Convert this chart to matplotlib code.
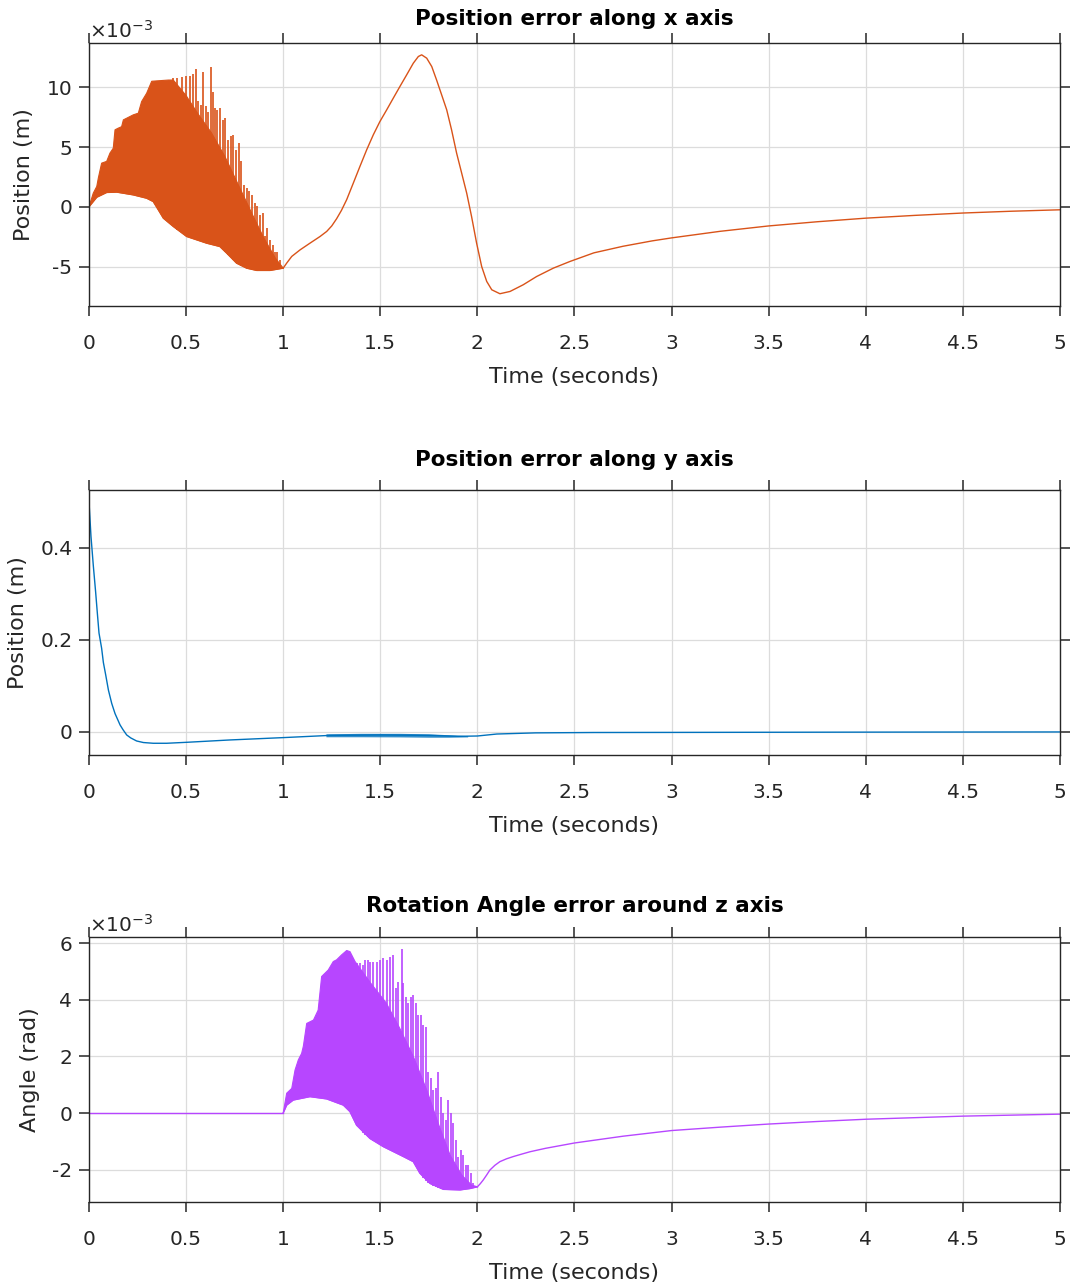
import numpy as np
import matplotlib
matplotlib.use('Agg')
from matplotlib import pyplot as plt

plt.rcParams['font.family'] = ['DejaVu Sans']
plt.rcParams['mathtext.fontset'] = 'dejavusans'
plt.rcParams['axes.unicode_minus'] = False

# ---------------- x error (units of 1e-3 m) ----------------
x_lo_t = [0.0, 0.04, 0.091, 0.143, 0.228, 0.297, 0.331, 0.357, 0.383, 0.434, 0.503,
          0.606, 0.674, 0.709, 0.76, 0.812, 0.864, 0.932, 1.0]
x_lo_v = [0.0, 0.8, 1.2, 1.23, 1.0, 0.72, 0.44, -0.25, -0.95, -1.64, -2.48,
          -3.04, -3.32, -3.87, -4.71, -5.13, -5.32, -5.32, -5.13]
# dense chatter body top
x_body_t = [0.0, 0.022, 0.04, 0.048, 0.065, 0.091, 0.108, 0.125, 0.134, 0.151, 0.168,
            0.177, 0.228, 0.254, 0.271, 0.297, 0.323, 0.409, 0.434, 0.5, 0.56, 0.63,
            0.7, 0.77, 0.84, 0.9, 0.96, 1.0]
x_body_v = [0.0, 1.14, 1.7, 2.4, 3.65, 3.8, 4.49, 4.9, 6.44, 6.58, 6.7,
            7.27, 7.69, 7.83, 8.8, 9.5, 10.5, 10.6, 10.6, 9.3, 7.8, 6.2,
            4.2, 1.8, -0.6, -2.6, -4.3, -5.13]
# individual chatter spikes
x_spk_t = [0.434, 0.455, 0.477, 0.4995, 0.52, 0.537, 0.551, 0.563, 0.575, 0.589,
           0.602, 0.614, 0.626, 0.637, 0.649, 0.661, 0.674, 0.688, 0.702, 0.716,
           0.729, 0.743, 0.757, 0.771, 0.784, 0.798, 0.812, 0.826, 0.839, 0.853,
           0.867, 0.88, 0.894, 0.908, 0.918, 0.932, 0.946, 0.958, 0.97, 0.983]
x_spk_hi = [10.76, 10.76, 10.84, 10.9, 10.9, 11.12, 11.51, 8.81, 8.53, 11.31,
            8.39, 7.97, 11.68, 9.64, 8.25, 8.11, 8.25, 7.27, 7.41, 5.6,
            5.88, 6.02, 4.77, 5.32, 3.79, 1.84, 1.56, 1.28, 1.0, 0.31,
            0.03, -0.67, -0.53, -2.48, -1.78, -2.76, -3.18, -3.74, -3.74, -4.43]
x_spk_lo = [-1.64, -1.9, -2.15, -2.45, -2.55, -2.65, -2.75, -2.8, -2.9, -2.98,
            -3.03, -3.07, -3.12, -3.17, -3.22, -3.27, -3.32, -3.5, -3.75, -4.0,
            -4.2, -4.45, -4.65, -4.8, -4.95, -5.05, -5.13, -5.2, -5.25, -5.3,
            -5.32, -5.32, -5.32, -5.32, -5.32, -5.32, -5.3, -5.25, -5.2, -5.15]
x_t = [1.0, 1.018, 1.044, 1.087, 1.138, 1.19, 1.224, 1.25, 1.275, 1.3, 1.327,
       1.361, 1.395, 1.43, 1.464, 1.498, 1.533, 1.567, 1.601, 1.636, 1.67, 1.696,
       1.713, 1.739, 1.765, 1.79, 1.816, 1.842, 1.867, 1.893, 1.919, 1.945, 1.97,
       1.996, 2.022, 2.048, 2.074, 2.116, 2.168, 2.236, 2.305, 2.391, 2.477, 2.6,
       2.75, 2.9, 3.0, 3.25, 3.5, 3.75, 4.0, 4.25, 4.5, 4.75, 5.0]
x_v = [-5.13, -4.71, -4.15, -3.6, -3.04, -2.48, -2.06, -1.6, -1.0, -0.3, 0.6,
       1.98, 3.37, 4.77, 6.02, 7.13, 8.11, 9.09, 10.06, 11.04, 12.01, 12.57,
       12.71, 12.43, 11.73, 10.6, 9.36, 8.11, 6.44, 4.49, 2.82, 1.14, -0.81,
       -3.04, -4.99, -6.24, -6.94, -7.27, -7.08, -6.52, -5.83, -5.13, -4.57, -3.85,
       -3.3, -2.85, -2.6, -2.05, -1.6, -1.25, -0.95, -0.72, -0.52, -0.37, -0.25]

# ---------------- y error (m) ----------------
y_t = [0.0, 0.0103, 0.0223, 0.034, 0.043, 0.0515, 0.065, 0.074, 0.086, 0.1,
       0.117, 0.134, 0.16, 0.175, 0.194, 0.215, 0.245, 0.28, 0.331, 0.4, 0.503,
       0.726, 1.0, 1.24, 1.5, 1.75, 1.9, 2.0, 2.1, 2.3, 2.6, 3.0, 4.0, 5.0]
y_v = [0.5, 0.4246, 0.361, 0.305, 0.258, 0.215, 0.182, 0.151, 0.124, 0.091,
       0.062, 0.04, 0.0152, 0.005, -0.0065, -0.013, -0.0196, -0.023, -0.0246,
       -0.0246, -0.0225, -0.0174, -0.0123, -0.0075, -0.0065, -0.0075, -0.0095,
       -0.0088, -0.0045, -0.002, -0.0012, -0.001, -0.0004, 0.0]
y_chat_t = [1.22, 1.4, 1.6, 1.75, 1.85, 1.95]
y_chat_lo = [-0.0105, -0.0105, -0.0108, -0.0115, -0.0115, -0.0108]
y_chat_hi = [-0.004, -0.003, -0.003, -0.004, -0.006, -0.008]

# ---------------- z rotation error (units of 1e-3 rad) ----------------
z_lo_t = [1.0, 1.018, 1.052, 1.138, 1.224, 1.31, 1.344, 1.378, 1.447, 1.516, 1.619,
          1.67, 1.704, 1.756, 1.825, 1.911, 1.963, 2.0]
z_lo_v = [0.0, 0.28, 0.46, 0.58, 0.5, 0.28, 0.05, -0.43, -0.9, -1.19, -1.54,
          -1.72, -2.13, -2.49, -2.7, -2.72, -2.67, -2.61]
z_body_t = [1.0, 1.018, 1.044, 1.061, 1.078, 1.095, 1.104, 1.121, 1.156, 1.18, 1.198,
            1.232, 1.258, 1.275, 1.3, 1.327, 1.344, 1.37, 1.45, 1.53, 1.6, 1.67,
            1.74, 1.8, 1.86, 1.92, 1.97, 2.0]
z_body_v = [0.0, 0.7, 0.87, 1.52, 1.88, 2.11, 2.37, 3.17, 3.29, 3.64, 4.83,
            5.06, 5.36, 5.42, 5.59, 5.75, 5.71, 5.36, 4.6, 3.9, 3.0, 2.0,
            0.8, -0.4, -1.5, -2.2, -2.55, -2.61]
z_spk_t = [1.3817, 1.3957, 1.41, 1.422, 1.436, 1.448, 1.464, 1.481, 1.498, 1.516,
           1.533, 1.55, 1.567, 1.581, 1.593, 1.61, 1.619, 1.631, 1.645, 1.656,
           1.67, 1.682, 1.696, 1.708, 1.722, 1.734, 1.747, 1.759, 1.773, 1.785,
           1.799, 1.811, 1.825, 1.837, 1.85, 1.862, 1.876, 1.888, 1.902, 1.914,
           1.928, 1.94, 1.953, 1.965, 1.979]
z_spk_hi = [5.3, 5.3, 5.24, 5.42, 5.42, 5.36, 5.36, 5.36, 5.42, 5.48,
            5.42, 5.53, 5.59, 4.41, 4.65, 5.79, 4.59, 4.12, 3.88, 4.12,
            4.18, 3.88, 3.47, 3.47, 3.12, 3.06, 1.46, 1.23, 0.81, 0.87,
            1.46, 0.58, -0.01, -0.25, 0.46, -0.01, -0.37, -0.96, -1.55, -1.31,
            -1.49, -1.84, -1.84, -2.13, -2.49]
z_spk_lo = [-0.45, -0.58, -0.7, -0.78, -0.85, -0.9, -0.98, -1.05, -1.12, -1.19,
            -1.25, -1.31, -1.37, -1.41, -1.45, -1.51, -1.54, -1.58, -1.63, -1.67,
            -1.72, -1.85, -2.03, -2.17, -2.3, -2.4, -2.47, -2.51, -2.57, -2.62,
            -2.66, -2.68, -2.7, -2.71, -2.72, -2.72, -2.72, -2.72, -2.72, -2.72,
            -2.71, -2.7, -2.68, -2.66, -2.64]
z_t = [0.0, 1.0]
z_v = [0.0, 0.0]
z_t2 = [2.0, 2.015, 2.03, 2.047, 2.064, 2.09, 2.116, 2.15, 2.185, 2.23, 2.271, 2.35,
        2.5, 2.75, 3.0, 3.25, 3.5, 3.75, 4.0, 4.5, 5.0]
z_v2 = [-2.61, -2.5, -2.37, -2.2, -2.02, -1.85, -1.72, -1.62, -1.54, -1.45, -1.37,
        -1.25, -1.06, -0.82, -0.62, -0.5, -0.39, -0.3, -0.22, -0.11, -0.04]

time_ticks = [0, 0.5, 1, 1.5, 2, 2.5, 3, 3.5, 4, 4.5, 5]
time_labels = ['0', '0.5', '1', '1.5', '2', '2.5', '3', '3.5', '4', '4.5', '5']

c_x = '#D95319'
c_y = '#0072BD'
c_z = '#B746FF'
ink = '#262626'

fig = plt.figure(figsize=(10.71, 12.87), dpi=100)


def style(ax, ylim, yticks, ylabels, title, ylabel, tpad):
    ax.set_xlim(0, 5)
    ax.set_ylim(*ylim)
    ax.set_xticks(time_ticks)
    ax.set_xticklabels(time_labels)
    ax.set_yticks(yticks)
    ax.set_yticklabels(ylabels)
    ax.grid(True, color='#dcdcdc', linewidth=0.9)
    ax.set_axisbelow(True)
    ax.tick_params(direction='out', length=7, width=1.1, colors=ink, labelsize=14.5,
                   top=True, right=True)
    ax.tick_params(axis='x', pad=13)
    ax.tick_params(axis='y', pad=5)
    for s in ax.spines.values():
        s.set_color(ink)
        s.set_linewidth(1.0)
    ax.set_title(title, fontsize=15.5, fontweight='bold', color='black', pad=tpad)
    ax.set_xlabel('Time (seconds)', fontsize=16, color=ink, labelpad=10)
    ax.set_ylabel(ylabel, fontsize=16, color=ink, labelpad=9)


def chatter(ax, lo_t, lo_v, body_t, body_v, spk_t, spk_lo, spk_hi, col):
    ax.fill(list(body_t) + list(lo_t[::-1]), list(body_v) + list(lo_v[::-1]),
            color=col, linewidth=0.8)
    ax.vlines(spk_t, spk_lo, spk_hi, color=col, linewidth=1.2)
    ax.plot(lo_t, lo_v, color=col, linewidth=1.0)


# ---- plot 1 ----
ax1 = fig.add_axes([0.0831, 0.7622, 0.9066, 0.2044])
chatter(ax1, x_lo_t, x_lo_v, x_body_t, x_body_v, x_spk_t, x_spk_lo, x_spk_hi, c_x)
ax1.plot(x_t, x_v, color=c_x, linewidth=1.0)
style(ax1, (-8.3, 13.7), [-5, 0, 5, 10], ['-5', '0', '5', '10'],
      'Position error along x axis', 'Position (m)', 13)
ax1.text(0.0, 1.003, r'$\times10^{-3}$', transform=ax1.transAxes, fontsize=14.5,
         color=ink, ha='left', va='bottom')

# ---- plot 2 ----
ax2 = fig.add_axes([0.0831, 0.4134, 0.9066, 0.2059])
ax2.plot(y_t, y_v, color=c_y, linewidth=1.0)
ax2.fill_between(y_chat_t, y_chat_lo, y_chat_hi, color=c_y, alpha=0.8, linewidth=0)
style(ax2, (-0.05, 0.526), [0, 0.2, 0.4], ['0', '0.2', '0.4'],
      'Position error along y axis', 'Position (m)', 17)

# ---- plot 3 ----
ax3 = fig.add_axes([0.0831, 0.0660, 0.9066, 0.2060])
ax3.plot(z_t, z_v, color=c_z, linewidth=1.0)
chatter(ax3, z_lo_t, z_lo_v, z_body_t, z_body_v, z_spk_t, z_spk_lo, z_spk_hi, c_z)
ax3.plot(z_t2, z_v2, color=c_z, linewidth=1.0)
style(ax3, (-3.15, 6.23), [-2, 0, 2, 4, 6], ['-2', '0', '2', '4', '6'],
      'Rotation Angle error around z axis', 'Angle (rad)', 18)
ax3.text(0.0, 1.003, r'$\times10^{-3}$', transform=ax3.transAxes, fontsize=14.5,
         color=ink, ha='left', va='bottom')

fig.savefig('out.png', dpi=100)
plt.close(fig)
